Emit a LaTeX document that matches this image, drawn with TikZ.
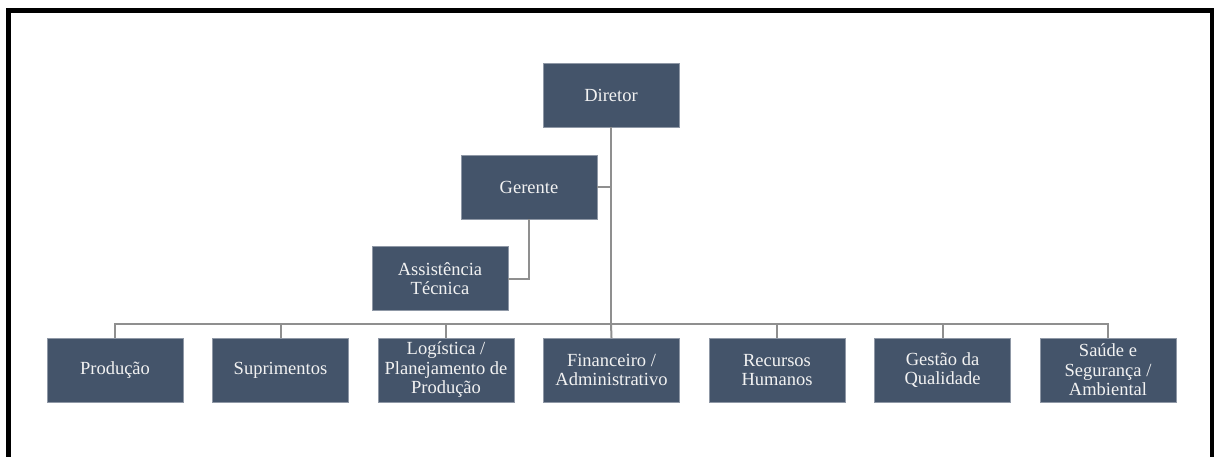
\documentclass[tikz,border=0pt]{standalone}
\usepackage{fontspec}
\setmainfont{Liberation Serif}
\usetikzlibrary{positioning,calc}
\definecolor{OrgSlate}{HTML}{44546A}
\definecolor{OrgLine}{HTML}{8F8F8F}
\definecolor{OrgText}{HTML}{F2F2F2}

\begin{document}
\begin{tikzpicture}[x=1pt,y=-1pt,node distance=29.5pt]
    \tikzset{unit/.style={fill=OrgSlate,draw=OrgSlate!60!white,line width=0.6pt,text=OrgText,minimum width=136pt,minimum height=64pt,inner sep=0pt,outer sep=0pt,align=center,font=\fontsize{18.5}{19.5}\selectfont},
      link/.style={draw=OrgLine,line width=2pt}}
    \useasboundingbox (0,0) rectangle (1214,457);
    % frame, open at the bottom
    \draw[line width=5pt,line join=miter] (8.5,470) -- (8.5,10.5) -- (1212,10.5) -- (1212,470);
    % upper levels
    \node[unit] (dir) at (611,95) {Diretor};
    \node[unit] (ger) at (529,187) {Gerente};
    \node[unit] (ast) at (440,278.5) {Assistência\\Técnica};
    % departments
    \node[unit] (fin) at (611.5,370) {Financeiro /\\Administrativo};
    \node[unit,left=of fin] (log) {Logística /\\Planejamento de\\Produção};
    \node[unit,left=of log] (sup) {Suprimentos};
    \node[unit,left=of sup] (prod) {Produção};
    \node[unit,right=of fin] (rh) {Recursos\\Humanos};
    \node[unit,right=of rh] (qual) {Gestão da\\Qualidade};
    \node[unit,right=of qual] (sms) {Saúde e\\Segurança /\\Ambiental};
    \coordinate (bus) at ($(dir.south |- 0,324)$);
    \draw[link] (dir.south) -- (bus);
    \draw[link] (ger.east) -- (ger.east -| dir.south);
    \draw[link] (ger.south) |- (ast.east);
    \draw[link] (bus) -| (prod.north);
    \draw[link] (bus) -| (sup.north);
    \draw[link] (bus) -| (log.north);
    \draw[link] (bus) -- (fin.north);
    \draw[link] (bus) -| (rh.north);
    \draw[link] (bus) -| (qual.north);
    \draw[link] (bus) -| (sms.north);
  \end{tikzpicture}
\end{document}
